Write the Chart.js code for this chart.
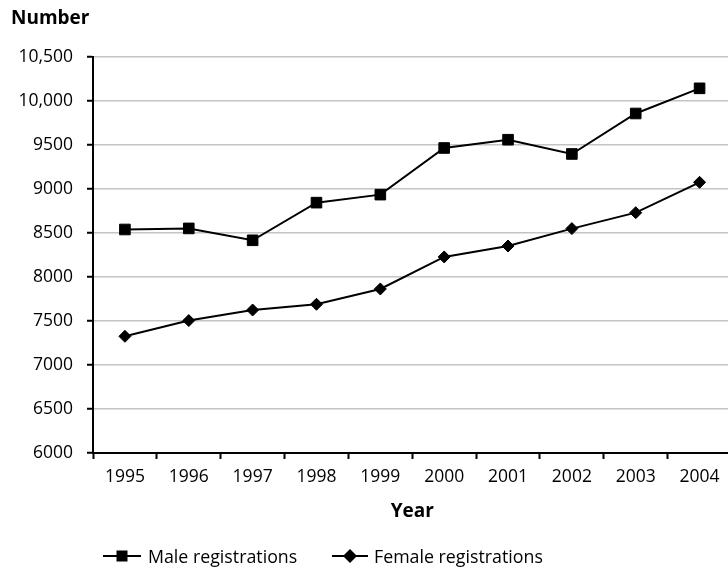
<!DOCTYPE html>
<html>
<head>
<meta charset="utf-8">
<script src="https://cdn.jsdelivr.net/npm/chart.js@4.4.1/dist/chart.umd.min.js"></script>
<style>
html,body{margin:0;padding:0;background:#fff;overflow:hidden;width:728px;height:568px;}
canvas{display:block;}
</style>
</head>
<body>
<canvas id="c" width="740" height="568" style="width:740px;height:568px"></canvas>
<script>
const years = ['1995','1996','1997','1998','1999','2000','2001','2002','2003','2004'];
const maleRegistrations = [8540, 8552, 8417, 8845, 8936, 9466, 9560, 9398, 9858, 10144];
const femaleRegistrations = [7326, 7505, 7625, 7690, 7864, 8228, 8352, 8550, 8731, 9076];
const yTickValues = [6000, 6500, 7000, 7500, 8000, 8500, 9000, 9500, 10000, 10500];
const yTickLabels = ['6000','6500','7000','7500','8000','8500','9000','9500','10,000','10,500'];
const seriesNames = ['Male registrations', 'Female registrations'];

const FONT = "'Open Sans', 'Noto Sans', sans-serif";

const extras = {
  id: 'extras',
  afterDraw(chart) {
    const ctx = chart.ctx;
    ctx.save();
    ctx.fillStyle = '#000';
    ctx.font = "bold 19px " + FONT;
    ctx.textAlign = 'left';
    ctx.textBaseline = 'alphabetic';
    ctx.fillText('Number', 11, 24);
    // legend
    const items = [
      {x0: 103, x1: 141, tx: 148, ds: chart.data.datasets[0]},
      {x0: 332, x1: 368, tx: 374, ds: chart.data.datasets[1]}
    ];
    const ly = 556;
    items.forEach(it => {
      ctx.strokeStyle = '#000';
      ctx.lineWidth = 2;
      ctx.beginPath();
      ctx.moveTo(it.x0, ly);
      ctx.lineTo(it.x1, ly);
      ctx.stroke();
      const cx = (it.x0 + it.x1) / 2;
      ctx.fillStyle = '#000';
      ctx.beginPath();
      if (it.ds.pointStyle === 'rect') {
        ctx.rect(cx - 5.5, ly - 5.5, 11, 11);
      } else {
        ctx.moveTo(cx, ly - 7);
        ctx.lineTo(cx + 7, ly);
        ctx.lineTo(cx, ly + 7);
        ctx.lineTo(cx - 7, ly);
        ctx.closePath();
      }
      ctx.fill();
      ctx.font = "17.8px " + FONT;
      ctx.textBaseline = 'alphabetic';
      ctx.fillText(it.ds.label, it.tx, 562.5);
    });
    ctx.restore();
  }
};

new Chart(document.getElementById('c'), {
  type: 'line',
  data: {
    labels: years,
    datasets: [
      {
        label: seriesNames[0],
        data: maleRegistrations,
        borderColor: '#000',
        backgroundColor: '#000',
        borderWidth: 2,
        pointStyle: 'rect',
        pointRadius: 7.5,
        pointBorderWidth: 1,
        pointBackgroundColor: '#000',
        pointBorderColor: '#000',
        tension: 0
      },
      {
        label: seriesNames[1],
        data: femaleRegistrations,
        borderColor: '#000',
        backgroundColor: '#000',
        borderWidth: 2,
        pointStyle: 'rectRot',
        pointRadius: 6,
        pointBorderWidth: 1,
        pointBackgroundColor: '#000',
        pointBorderColor: '#000',
        tension: 0
      }
    ]
  },
  options: {
    responsive: false,
    animation: false,
    layout: { padding: { left: 0, top: 57, right: 7, bottom: 0 } },
    plugins: {
      legend: { display: false },
      tooltip: { enabled: false },
      title: { display: false }
    },
    scales: {
      x: {
        type: 'category',
        offset: true,
        grid: {
          offset: true,
          drawOnChartArea: false,
          drawTicks: true,
          tickLength: 6,
          tickColor: '#000',
          tickWidth: 2
        },
        border: { color: '#000', width: 2 },
        ticks: {
          color: '#000',
          font: { family: FONT, size: 17.5 },
          padding: 8,
          maxRotation: 0,
          autoSkip: false
        },
        title: {
          display: true,
          text: 'Year',
          color: '#000',
          font: { family: FONT, size: 19, weight: 'bold' },
          padding: { top: 0, bottom: 45 }
        },
        afterFit(scale) { scale.height = 115; }
      },
      y: {
        min: 6000,
        max: 10500,
        grid: {
          color: '#c4c4c4',
          lineWidth: 1.5,
          drawTicks: true,
          tickLength: 6,
          tickColor: '#000',
          tickWidth: 2
        },
        border: { color: '#000', width: 2 },
        afterBuildTicks(scale) {
          scale.ticks = yTickValues.map(v => ({ value: v }));
        },
        ticks: {
          color: '#000',
          font: { family: FONT, size: 17.5 },
          padding: 14,
          callback(value) {
            const i = yTickValues.indexOf(value);
            return i >= 0 ? yTickLabels[i] : '';
          }
        },
        afterFit(scale) { scale.width = 93; }
      }
    }
  },
  plugins: [extras]
});
</script>
</body>
</html>
